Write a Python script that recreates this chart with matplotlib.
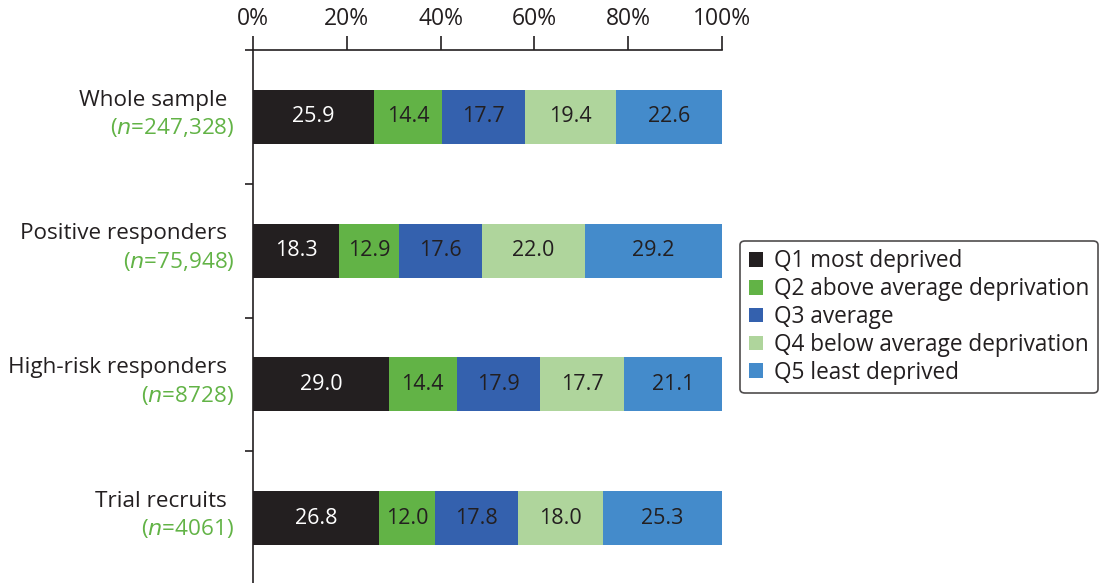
import matplotlib
matplotlib.use("Agg")
import matplotlib.pyplot as plt
from matplotlib.patches import Patch
import numpy as np

categories = ["Whole sample", "Positive responders", "High-risk responders", "Trial recruits"]
n_labels = ["247,328", "75,948", "8728", "4061"]
series_names = ["Q1 most deprived", "Q2 above average deprivation", "Q3 average",
                "Q4 below average deprivation", "Q5 least deprived"]
q1 = [25.9, 18.3, 29.0, 26.8]
q2 = [14.4, 12.9, 14.4, 12.0]
q3 = [17.7, 17.6, 17.9, 17.8]
q4 = [19.4, 22.0, 17.7, 18.0]
q5 = [22.6, 29.2, 21.1, 25.3]
xticklabels = ["0%", "20%", "40%", "60%", "80%", "100%"]

colors = ["#231f20", "#62b346", "#3461ae", "#afd59c", "#448bcb"]
text_colors = ["white", "#231f20", "#231f20", "#231f20", "#231f20"]
green = "#62b346"

plt.rcParams['font.family'] = ['Open Sans', 'DejaVu Sans']

fig = plt.figure(figsize=(11.02, 5.83), dpi=100)
ax = fig.add_axes([253/1102, -2/583, (722-253)/1102, (585-50)/583])

series = [q1, q2, q3, q4, q5]
y = np.arange(len(categories))
left = np.zeros(len(categories))
handles = []
for vals, c, tc, name in zip(series, colors, text_colors, series_names):
    vals = np.array(vals)
    ax.barh(y, vals, left=left, height=0.405, color=c, edgecolor='none')
    for yi, l, v in zip(y, left, vals):
        ax.text(l + v / 2, yi, f"{v:.1f}", ha='center', va='center', color=tc, fontsize=15.5)
    handles.append(Patch(facecolor=c, edgecolor='none', label=name))
    left = left + vals

ax.set_xlim(0, 100)
ax.set_ylim(3.5, -0.5)
ax.xaxis.tick_top()
ax.set_xticks([0, 20, 40, 60, 80, 100])
ax.set_xticklabels(xticklabels, fontsize=16.5, color="#231f20")
ax.tick_params(axis='x', direction='out', length=10, width=1.2, pad=4, color="#231f20")
ax.set_yticks([-0.5, 0.5, 1.5, 2.5])
ax.set_yticklabels([])
ax.tick_params(axis='y', direction='out', length=6, width=1.2, color="#231f20")
for s in ['right', 'bottom']:
    ax.spines[s].set_visible(False)
for s in ['top', 'left']:
    ax.spines[s].set_linewidth(1.2)
    ax.spines[s].set_color("#231f20")

for yi, cat, n in zip(y, categories, n_labels):
    ax.text(-0.055, yi - 0.125, cat, transform=ax.get_yaxis_transform(), ha='right', va='center',
            fontsize=16.2, color="#231f20")
    ax.text(-0.04, yi + 0.08, r"($\it{n}$=" + n + ")", transform=ax.get_yaxis_transform(),
            ha='right', va='center', fontsize=16.2, color=green)

leg = fig.legend(handles=handles, loc='center left', bbox_to_anchor=(740/1102, 1 - 317/583),
                 frameon=True, fontsize=16.3, handlelength=0.62, handleheight=0.62,
                 handletextpad=0.5, labelspacing=0.17, borderpad=0.38, borderaxespad=0,
                 fancybox=True)
frame = leg.get_frame()
frame.set_edgecolor("#231f20")
frame.set_linewidth(1.2)
for t in leg.get_texts():
    t.set_color("#231f20")

fig.savefig("out.png", dpi=100)
